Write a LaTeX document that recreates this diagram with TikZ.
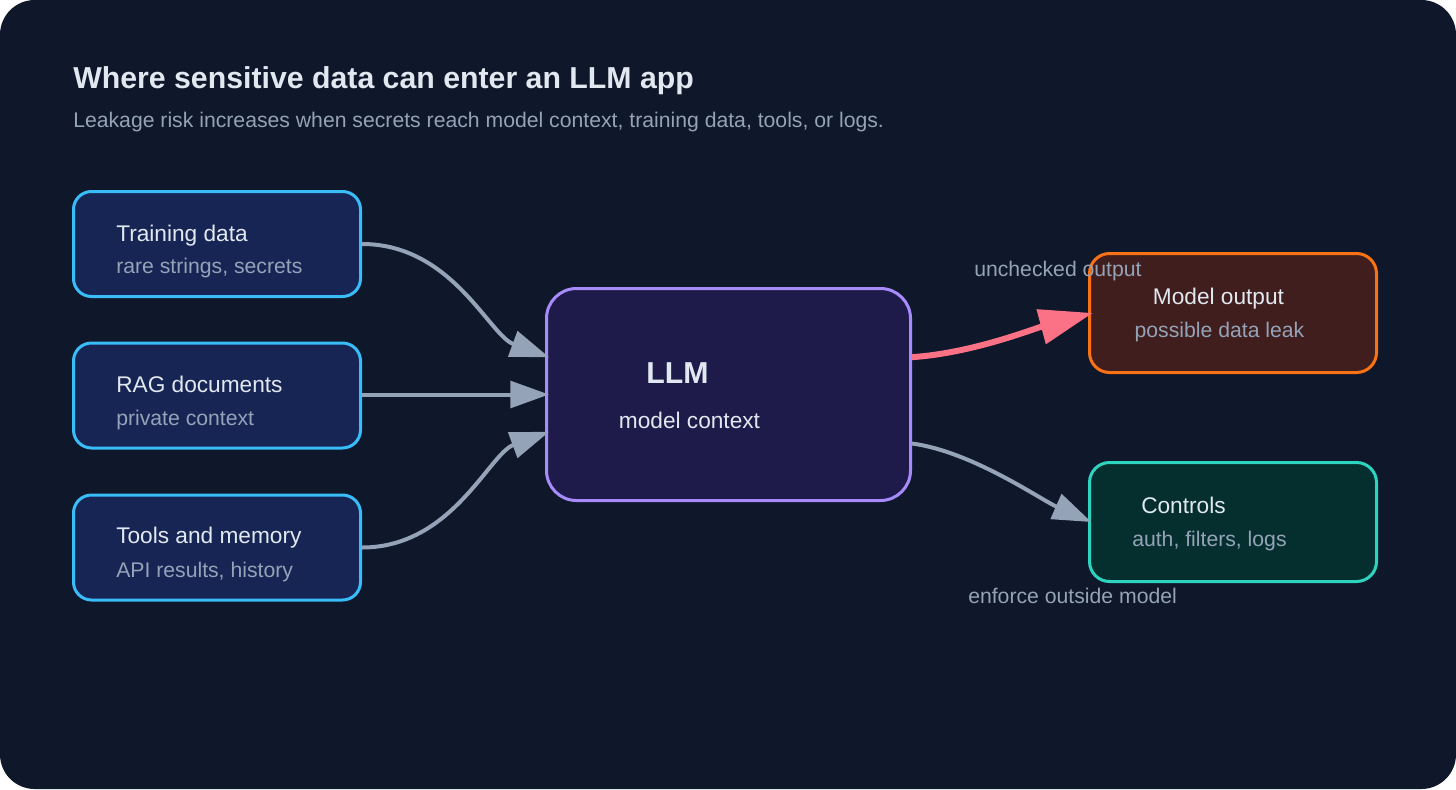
\documentclass[tikz,border=0pt]{standalone}
\usepackage{fontspec}
\setmainfont{Liberation Sans}
\usetikzlibrary{positioning, arrows.meta, calc}
\definecolor{pagebg}{HTML}{0F172A}
\definecolor{srcfill}{HTML}{172554}
\definecolor{srcline}{HTML}{38BDF8}
\definecolor{llmfill}{HTML}{1E1B4B}
\definecolor{llmline}{HTML}{A78BFA}
\definecolor{outfill}{RGB}{64,30,30}
\definecolor{outline}{HTML}{F97316}
\definecolor{ctrlfill}{HTML}{042F2E}
\definecolor{ctrlline}{HTML}{2DD4BF}
\definecolor{txtmain}{HTML}{E2E8F0}
\definecolor{txtsub}{HTML}{94A3B8}
\definecolor{leakred}{HTML}{FB7185}
\tikzset{
    srcbox/.style={rectangle, rounded corners=13.5pt, draw=srcline, fill=srcfill, line width=2.25pt, minimum width=215.25pt, minimum height=78.75pt},
    llmbox/.style={rectangle, rounded corners=22.5pt, draw=llmline, fill=llmfill, line width=2.25pt, minimum width=273pt, minimum height=159pt},
    sinkbox/.style={rectangle, rounded corners=15pt, draw=#1line, fill=#1fill, line width=2.25pt, minimum width=215.25pt, minimum height=89.25pt},
    headlbl/.style={inner sep=0pt, anchor=base west, font=\fontsize{22.7}{27}\selectfont\bfseries, text=txtmain},
    sublbl/.style={inner sep=0pt, anchor=base west, font=\fontsize{15.9}{19}\selectfont, text=txtsub},
    boxlbl/.style={inner sep=0pt, anchor=base west, font=\fontsize{17}{20}\selectfont, text=txtmain},
    feed/.style={-{Triangle[length=29pt, width=20pt]}, line width=3pt, color=txtsub},
    leak/.style={-{Triangle[length=40pt, width=26pt]}, line width=4.5pt, color=leakred}
}
\begin{document}
\begin{tikzpicture}[x=0.75pt, y=-0.75pt]
    \useasboundingbox (0,0) rectangle (1456,789);
    % Canvas
    \fill[white] (0,0) rectangle (1456,789);
    \fill[pagebg, rounded corners=26pt] (0,0) rectangle (1456,789);

    % Heading
    \node[headlbl] (title) at (73,88) {Where sensitive data can enter an LLM app};
    \node[sublbl] (subtitle) at (73,127) {Leakage risk increases when secrets reach model context, training data, tools, or logs.};

    % Sources
    \node[srcbox] (train) at (217,244) {};
    \node[boxlbl] (train_t) at (116,241) {Training data};
    \node[sublbl] (train_s) at (116,273) {rare strings, secrets};

    \node[srcbox] (rag) at (217,395.5) {};
    \node[boxlbl] (rag_t) at (116,392) {RAG documents};
    \node[sublbl] (rag_s) at (116,425) {private context};

    \node[srcbox] (tools) at (217,547.5) {};
    \node[boxlbl] (tools_t) at (116,543) {Tools and memory};
    \node[sublbl] (tools_s) at (116,577) {API results, history};

    % Model
    \node[llmbox] (llm) at (728.5,394.5) {};
    \node[headlbl, anchor=base] (llm_t) at (677.5,383) {LLM};
    \node[boxlbl, anchor=base] (llm_s) at (689.5,428) {model context};

    % Sinks
    \node[sinkbox=out] (output) at (1233,313) {};
    \node[boxlbl, anchor=base] (output_t) at (1218.5,304) {Model output};
    \node[sublbl, anchor=base] (output_s) at (1219.5,337) {possible data leak};

    \node[sinkbox=ctrl] (ctrl) at (1233,522) {};
    \node[boxlbl] (ctrl_t) at (1141,513) {Controls};
    \node[sublbl] (ctrl_s) at (1132,546) {auth, filters, logs};

    % Flows
    \draw[feed] (train.east) .. controls +(90,0) and +(-60,-22) .. ([xshift=3pt, yshift=28pt]llm.west);
    \draw[feed] (rag.east |- llm.west) -- ([xshift=3pt]llm.west);
    \draw[feed] (tools.east) .. controls +(90,0) and +(-60,22) .. ([xshift=3pt, yshift=-28pt]llm.west);
    \draw[leak] ([yshift=28pt]llm.east) .. controls +(60,-4) and +(-60,16) .. ([xshift=3.5pt]output.west);
    \draw[feed] ([yshift=-36.75pt]llm.east) .. controls +(60,8) and +(-50,-22) .. ([xshift=2.5pt]ctrl.west);

    % Flow notes
    \node[sublbl] (note_leak) at (974,276) {unchecked output};
    \node[sublbl] (note_ctrl) at (968,603) {enforce outside model};
\end{tikzpicture}
\end{document}
